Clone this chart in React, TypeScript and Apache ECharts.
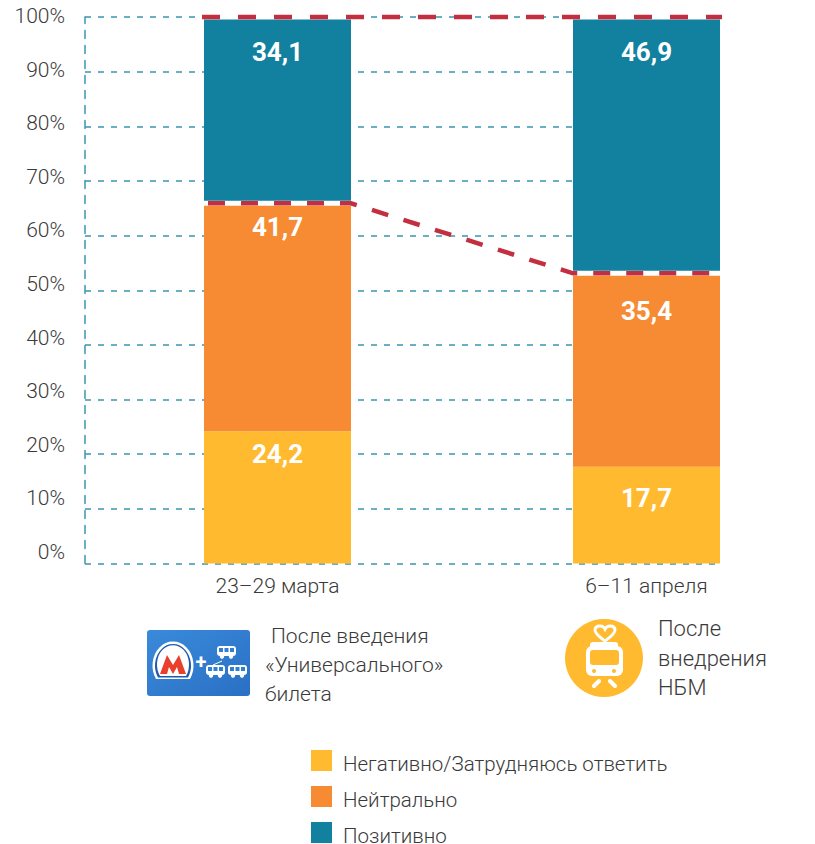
import React, { useEffect, useRef } from "react";
import * as echarts from "echarts";

const categories = ["23–29 марта", "6–11 апреля"];
const negative = [24.2, 17.7];
const neutral = [41.7, 35.4];
const positive = [34.1, 46.9];
const seriesNames = ["Негативно/Затрудняюсь ответить", "Нейтрально", "Позитивно"];
const yTicks = [0, 10, 20, 30, 40, 50, 60, 70, 80, 90, 100];

const TEAL = "#12809f";
const ORANGE = "#f68b33";
const YELLOW = "#ffba2f";
const RED = "#c42f40";
const GRID = "#3a97ae";
const TEXT = "#3a3a3a";
const FONT = "Roboto, sans-serif";
const BAR_W = 147;

echarts.graphic.registerShape(
  "archOuter",
  echarts.graphic.extendPath("M156 679 A20.5 24 0 1 1 190 679 Z", {})
);
echarts.graphic.registerShape(
  "archRing",
  echarts.graphic.extendPath("M158 677.5 A18 21.5 0 1 1 188 677.5 Z", {})
);
echarts.graphic.registerShape(
  "archInner",
  echarts.graphic.extendPath("M160 676 A16 19.5 0 1 1 186 676 Z", {})
);
echarts.graphic.registerShape(
  "metroM",
  echarts.graphic.extendPath(
    "M160 674 L167 655 L173 665 L179 655 L186 674 L179 674 L177 667 L173 674 L169 667 L167 674 Z",
    {}
  )
);
echarts.graphic.registerShape(
  "heart",
  echarts.graphic.extendPath(
    "M605 641 C601 638 595 634 595 630 C595 627 597 626 600 626 C602 626 604 627 605 629 C606 627 608 626 610 626 C613 626 615 627 615 630 C615 634 609 638 605 641 Z",
    {}
  )
);

function bus(x: number, y: number) {
  const blue = "#2f7fd3";
  return {
    type: "group",
    x,
    y,
    children: [
      { type: "rect", shape: { x: 0, y: 0, width: 19, height: 10, r: 3 }, style: { fill: "#fff" } },
      { type: "rect", shape: { x: 2, y: 2, width: 4, height: 4 }, style: { fill: blue } },
      { type: "rect", shape: { x: 7.5, y: 2, width: 4, height: 4 }, style: { fill: blue } },
      { type: "rect", shape: { x: 13, y: 2, width: 4, height: 4 }, style: { fill: blue } },
      { type: "circle", shape: { cx: 5, cy: 10.5, r: 2.2 }, style: { fill: "#fff" } },
      { type: "circle", shape: { cx: 14, cy: 10.5, r: 2.2 }, style: { fill: "#fff" } },
    ],
  };
}

function caption(text: string, x: number, y: number, size: number) {
  return {
    type: "text",
    x,
    y,
    style: { text, font: `300 ${size}px ${FONT}`, fill: TEXT, textAlign: "left", textVerticalAlign: "middle" },
  };
}

const cardGraphics = [
  {
    type: "rect",
    shape: { x: 147, y: 630, width: 103, height: 66, r: 3 },
    style: {
      fill: new echarts.graphic.LinearGradient(0, 0, 1, 1, [
        { offset: 0, color: "#3a8ada" },
        { offset: 1, color: "#2a70c4" },
      ]),
    },
  },
  { type: "archOuter", x: 0, y: 0, style: { fill: "#fff" } },
  { type: "archRing", x: 0, y: 0, style: { fill: "#1f5aa8" } },
  { type: "archInner", x: 0, y: 0, style: { fill: "#fff" } },
  { type: "metroM", x: 0, y: 0, style: { fill: "#e8402c" } },
  {
    type: "text",
    x: 201,
    y: 662,
    style: { text: "+", font: `700 20px ${FONT}`, fill: "#fff", textAlign: "center", textVerticalAlign: "middle" },
  },
  bus(217, 646),
  bus(206, 665),
  bus(228, 665),
  {
    type: "line",
    shape: { x1: 213, y1: 665, x2: 222, y2: 661 },
    style: { stroke: "#fff", lineWidth: 1 },
  },
];

const tramGraphics = [
  { type: "circle", shape: { cx: 604, cy: 658, r: 39 }, style: { fill: YELLOW } },
  { type: "heart", x: 0, y: 0, style: { fill: YELLOW, stroke: "#fff", lineWidth: 3 } },
  { type: "rect", shape: { x: 590, y: 642, width: 28, height: 8, r: 3 }, style: { fill: "#fff" } },
  { type: "rect", shape: { x: 586, y: 646, width: 37, height: 30, r: 6 }, style: { fill: "#fff" } },
  { type: "rect", shape: { x: 590, y: 650, width: 29, height: 15, r: 3 }, style: { fill: YELLOW } },
  { type: "circle", shape: { cx: 594, cy: 671, r: 2 }, style: { fill: YELLOW } },
  { type: "circle", shape: { cx: 614, cy: 671, r: 2 }, style: { fill: YELLOW } },
  {
    type: "line",
    shape: { x1: 599, y1: 681, x2: 594, y2: 686 },
    style: { stroke: "#fff", lineWidth: 4, lineCap: "round" },
  },
  {
    type: "line",
    shape: { x1: 610, y1: 681, x2: 615, y2: 686 },
    style: { stroke: "#fff", lineWidth: 4, lineCap: "round" },
  },
];

function barSeries(name: string, values: number[], color: string, distances: number[]) {
  return {
    name,
    type: "bar",
    stack: "total",
    xAxisIndex: 1,
    yAxisIndex: 1,
    barWidth: BAR_W,
    clip: false,
    itemStyle: { color },
    data: values.map((value, i) => ({
      value,
      label: {
        show: true,
        position: "insideTop",
        distance: distances[i],
        formatter: (p: any) => String(p.value).replace(".", ","),
        color: "#fff",
        fontFamily: FONT,
        fontWeight: 700,
        fontSize: 26,
      },
    })),
  };
}

// Cumulative boundaries between the segments, taken from the series values.
const topBoundary = categories.map((_, i) => negative[i] + neutral[i] + positive[i]);
const midBoundary = categories.map((_, i) => negative[i] + neutral[i]);

function boundarySeries(values: number[], overhang: number, dash: number[], dashOffset: number) {
  return {
    type: "custom",
    xAxisIndex: 1,
    yAxisIndex: 1,
    z: 5,
    silent: true,
    clip: false,
    data: [values],
    encode: { y: [0, 1] },
    renderItem: (_: any, api: any) => {
      const half = BAR_W / 2;
      const pts: number[][] = [];
      const whites: any[] = [];
      categories.forEach((c, i) => {
        const [cx, cy] = api.coord([i, values[i]]);
        pts.push([cx - half - overhang, cy], [cx + half + overhang, cy]);
        whites.push({
          type: "rect",
          shape: { x: cx - half, y: cy - 2.5, width: BAR_W, height: 5 },
          style: { fill: "#fff" },
        });
      });
      return {
        type: "group",
        children: [
          ...whites,
          {
            type: "polyline",
            shape: { points: pts },
            style: {
              fill: "none",
              stroke: RED,
              lineWidth: 4.5,
              lineDash: dash,
              lineDashOffset: dashOffset,
            },
          },
        ],
      };
    },
  };
}

export default function App() {
  const ref = useRef<HTMLDivElement>(null);
  useEffect(() => {
    const chart = echarts.init(ref.current!, null, { renderer: "svg" });
    chart.setOption({
      animation: false,
      backgroundColor: "#fff",
      grid: [
        { left: 85, width: 635, top: 17, height: 546.5 },
        { left: 277.5, width: 369, top: 17, height: 546.5 },
        { left: 85, width: 635, top: 16, height: 536 },
      ],
      xAxis: [
        { type: "value", gridIndex: 0, show: false, min: 0, max: 1 },
        {
          type: "category",
          gridIndex: 1,
          boundaryGap: false,
          data: categories,
          axisLine: { show: false },
          axisTick: { show: false },
          axisLabel: { color: TEXT, fontFamily: FONT, fontWeight: 300, fontSize: 21, margin: 12, interval: 0 },
        },
        { type: "value", gridIndex: 2, show: false, min: 0, max: 1 },
      ],
      yAxis: [
        {
          type: "value",
          gridIndex: 0,
          min: 0,
          max: 100,
          interval: 10,
          axisLine: { show: true, lineStyle: { color: GRID, width: 1.5, type: [8, 7] } },
          axisTick: { show: false },
          axisLabel: { show: false },
          splitLine: { show: true, lineStyle: { color: GRID, width: 1.5, type: [6, 7] } },
        },
        { type: "value", gridIndex: 1, show: false, min: 0, max: 100, interval: 10 },
        {
          type: "value",
          gridIndex: 2,
          min: 0,
          max: 100,
          interval: 10,
          axisLine: { show: false },
          axisTick: { show: false },
          splitLine: { show: false },
          axisLabel: {
            color: TEXT,
            fontFamily: FONT,
            fontWeight: 300,
            fontSize: 21,
            margin: 20,
            customValues: yTicks,
            formatter: "{value}%",
          },
        },
      ],
      legend: {
        left: 311,
        top: 750,
        padding: 0,
        orient: "vertical",
        itemWidth: 21,
        itemHeight: 21,
        itemGap: 12,
        icon: "rect",
        data: seriesNames,
        selectedMode: false,
        formatter: "{t|{name}}",
        textStyle: {
          rich: {
            t: {
              color: TEXT,
              fontFamily: FONT,
              fontWeight: 300,
              fontSize: 20.5,
              padding: [6, 0, 0, 6],
            },
          },
        },
      },
      series: [
        barSeries(seriesNames[0], negative, YELLOW, [10, 18]),
        barSeries(seriesNames[1], neutral, ORANGE, [11, 25]),
        barSeries(seriesNames[2], positive, TEAL, [22, 22]),
        boundarySeries(topBoundary, 2, [18, 18], 0),
        boundarySeries(midBoundary, 0, [17, 16], 29),
      ],
      graphic: [
        ...cardGraphics,
        ...tramGraphics,
        caption("После введения", 271, 636, 21),
        caption("«Универсального»", 265, 665, 21),
        caption("билета", 265, 694, 21),
        caption("После", 658, 628, 22),
        caption("внедрения", 658, 658, 22),
        caption("НБМ", 658, 687, 22),
      ],
    });
    return () => chart.dispose();
  }, []);
  return (
    <div style={{ position: "absolute", left: 0, top: 0, width: 815, height: 844, overflow: "hidden" }}>
      <div ref={ref} style={{ width: 815, height: 870 }} />
    </div>
  );
}
